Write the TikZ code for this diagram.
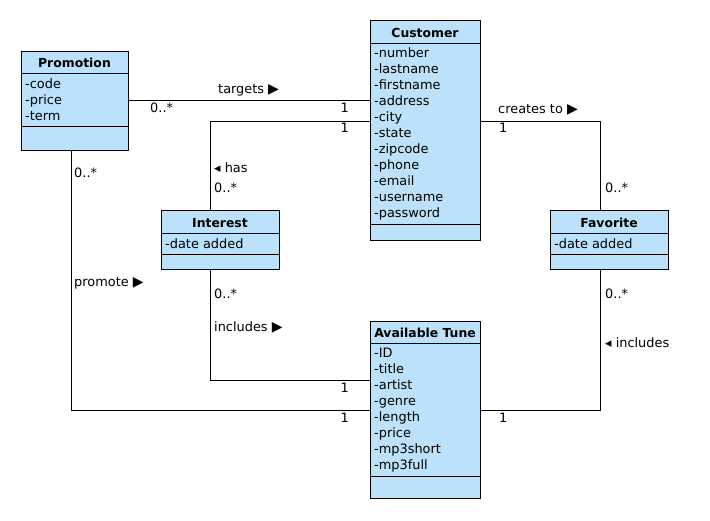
\documentclass[tikz,border=0pt]{standalone}
\usepackage{fontspec}
\setmainfont{DejaVu Sans}
\definecolor{umlfill}{RGB}{187,226,250}
\newcommand{\mytrisz}{\fontsize{14}{14}\selectfont}
\begin{document}
\begin{tikzpicture}[x=1pt,y=-1pt,
  box/.style={draw=black, fill=umlfill, line width=1pt, anchor=north west, inner sep=0, outer sep=0},
  ttl/.style={font=\fontsize{12.4}{14}\selectfont\bfseries, anchor=base, inner sep=0},
  attr/.style={font=\fontsize{12.9}{14}\selectfont, anchor=base west, inner sep=0},
  lbl/.style={font=\fontsize{12.9}{14}\selectfont, inner sep=0, anchor=west},
  sep/.style={draw=black, line width=1pt},
  conn/.style={draw=black, line width=1pt}]
\useasboundingbox[fill=white] (0,0) rectangle (710,520);

% Promotion
\node[box, minimum width=107, minimum height=99] (prom) at (21,51) {};
\draw[sep] (21,73) -- (128,73);
\draw[sep] (21,126) -- (128,126);
\node[ttl] (promt) at (74.5,67) {Promotion};
\foreach \t [count=\i] in {-code,-price,-term}
  \node[attr] (pa\i) at (25,{72+16*\i}) {\t};

% Customer
\node[box, minimum width=110, minimum height=220] (cust) at (370,20) {};
\draw[sep] (370,43) -- (480,43);
\draw[sep] (370,224) -- (480,224);
\node[ttl] (custt) at (425,37) {Customer};
\foreach \t [count=\i] in {-number,-lastname,-firstname,-address,-city,-state,-zipcode,-phone,-email,-username,-password}
  \node[attr] (ca\i) at (374,{41+16*\i}) {\t};

% Interest
\node[box, minimum width=118, minimum height=59] (int) at (161,210) {};
\draw[sep] (161,233) -- (279,233);
\draw[sep] (161,254) -- (279,254);
\node[ttl] (intt) at (220,227) {Interest};
\node[attr] (ia1) at (165,248) {-date added};

% Favorite
\node[box, minimum width=118, minimum height=59] (fav) at (550,210) {};
\draw[sep] (550,233) -- (668,233);
\draw[sep] (550,254) -- (668,254);
\node[ttl] (favt) at (609,227) {Favorite};
\node[attr] (fa1) at (554,248) {-date added};

% Available Tune
\node[box, minimum width=110, minimum height=177] (tune) at (370,321) {};
\draw[sep] (370,343) -- (480,343);
\draw[sep] (370,476) -- (480,476);
\node[ttl] (tunet) at (425,337) {Available Tune};
\foreach \t [count=\i] in {-ID,-title,-artist,-genre,-length,-price,-mp3short,-mp3full}
  \node[attr] (ta\i) at (374,{341+16*\i}) {\t};

% connectors
\draw[conn] (prom.east |- 0,100) -- (cust.west |- 0,100);
\draw[conn] (cust.west |- 0,121) -| (int.north -| 210,0);
\draw[conn] (cust.east |- 0,121) -| (fav.north -| 600,0);
\draw[conn] (int.south -| 210,0) |- (tune.west |- 0,380);
\draw[conn] (prom.south -| 71,0) |- (tune.west |- 0,410);
\draw[conn] (fav.south -| 600,0) |- (tune.east |- 0,410);

% labels
\node[lbl] (l1) at (218,90) {targets {\mytrisz▶}};
\node[lbl] (l2) at (150,108) {0..*};
\node[lbl, anchor=east] (l3) at (349,108) {1};
\node[lbl, anchor=east] (l4) at (349,128) {1};
\node[lbl] (l5) at (214,168) {◂ has};
\node[lbl] (l6) at (214,188) {0..*};
\node[lbl] (l7) at (498,110) {creates to {\mytrisz▶}};
\node[lbl] (l8) at (499,128) {1};
\node[lbl] (l9) at (605,188) {0..*};
\node[lbl] (l10) at (74,173) {0..*};
\node[lbl] (l11) at (74,283) {promote {\mytrisz▶}};
\node[lbl] (l12) at (214,294) {0..*};
\node[lbl] (l13) at (214,327) {includes {\mytrisz▶}};
\node[lbl, anchor=east] (l14) at (349,388) {1};
\node[lbl, anchor=east] (l15) at (349,418) {1};
\node[lbl] (l16) at (605,294) {0..*};
\node[lbl] (l17) at (605,343) {◂ includes};
\node[lbl] (l18) at (499,418) {1};
\end{tikzpicture}
\end{document}
